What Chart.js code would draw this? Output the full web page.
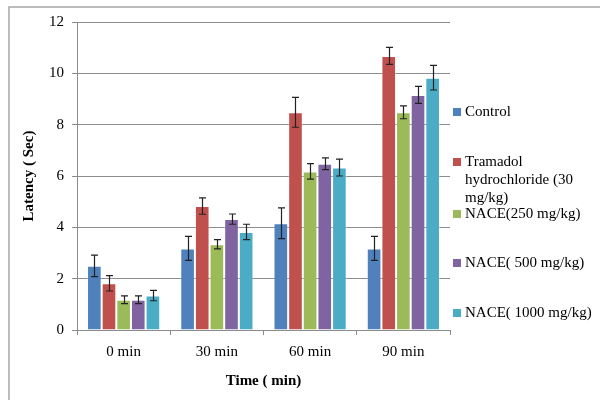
<!DOCTYPE html>
<html>
<head>
<meta charset="utf-8">
<script src="https://cdn.jsdelivr.net/npm/chart.js@4"></script>
<style>
html,body{margin:0;padding:0;background:#fff;}
#wrap{position:relative;width:600px;height:400px;}
</style>
</head>
<body>
<div id="wrap"><canvas id="c" width="600" height="400"></canvas></div>
<script>
const categories = ["0 min", "30 min", "60 min", "90 min"];
const seriesNames = ["Control", "Tramadol hydrochloride (30 mg/kg)", "NACE(250 mg/kg)", "NACE( 500 mg/kg)", "NACE( 1000 mg/kg)"];
const legendLines = [["Control"], ["Tramadol", "hydrochloride (30", "mg/kg)"], ["NACE(250 mg/kg)"], ["NACE( 500 mg/kg)"], ["NACE( 1000 mg/kg)"]];
const control   = [2.50, 3.18, 4.16, 3.18];
const tramadol  = [1.82, 4.83, 8.48, 10.68];
const nace250   = [1.18, 3.34, 6.18, 8.48];
const nace500   = [1.18, 4.32, 6.48, 9.16];
const nace1000  = [1.34, 3.82, 6.33, 9.83];
const errControl  = [0.42, 0.47, 0.60, 0.47];
const errTramadol = [0.30, 0.32, 0.58, 0.33];
const errNace250  = [0.15, 0.18, 0.30, 0.25];
const errNace500  = [0.15, 0.20, 0.23, 0.33];
const errNace1000 = [0.20, 0.30, 0.33, 0.48];
const yTicks = [0, 2, 4, 6, 8, 10, 12];

const colors = ["#4F81BD", "#C0504D", "#9BBB59", "#8064A2", "#4BACC6"];
const values = [control, tramadol, nace250, nace500, nace1000];
const errors = [errControl, errTramadol, errNace250, errNace500, errNace1000];
const FONT = "'Liberation Serif', 'Times New Roman', serif";

const errorBars = {
  id: 'errorBars',
  afterDatasetsDraw(chart) {
    const ctx = chart.ctx;
    const y = chart.scales.y;
    ctx.save();
    ctx.strokeStyle = '#222';
    ctx.lineWidth = 1.2;
    chart.data.datasets.forEach((ds, di) => {
      const meta = chart.getDatasetMeta(di);
      meta.data.forEach((bar, i) => {
        const v = ds.data[i], e = errors[di][i];
        const x = Math.round(bar.x) + 0.5;
        const yt = y.getPixelForValue(v + e), yb = y.getPixelForValue(v - e);
        ctx.beginPath();
        ctx.moveTo(x, yt); ctx.lineTo(x, yb);
        ctx.moveTo(x - 3.5, yt); ctx.lineTo(x + 3.5, yt);
        ctx.moveTo(x - 3.5, yb); ctx.lineTo(x + 3.5, yb);
        ctx.stroke();
      });
    });
    ctx.restore();
  }
};

const frameAndLegend = {
  id: 'frameAndLegend',
  beforeDraw(chart) {
    const ctx = chart.ctx;
    ctx.save();
    ctx.strokeStyle = '#a6a6a6';
    ctx.lineWidth = 1.5;
    ctx.beginPath();
    ctx.moveTo(9, 400); ctx.lineTo(9, 7); ctx.lineTo(600, 7);
    ctx.stroke();
    ctx.restore();
  },
  afterDraw(chart) {
    const ctx = chart.ctx;
    ctx.save();
    ctx.font = "15px " + FONT;
    ctx.fillStyle = '#000';
    ctx.textBaseline = 'middle';
    const ys = [112, 162, 214, 263, 313];
    legendLines.forEach((lines, i) => {
      ctx.fillStyle = colors[i];
      ctx.fillRect(453, ys[i] - 4, 8, 8);
      ctx.fillStyle = '#000';
      lines.forEach((t, k) => ctx.fillText(t, 465, ys[i] + k * 18));
    });
    ctx.restore();
  }
};

new Chart(document.getElementById('c'), {
  type: 'bar',
  data: {
    labels: categories,
    datasets: seriesNames.map((n, i) => ({
      label: n,
      data: values[i],
      backgroundColor: colors[i],
      borderColor: 'rgba(255,255,255,0.35)',
      borderWidth: 1,
      categoryPercentage: 0.785,
      barPercentage: 1.0
    }))
  },
  options: {
    responsive: false,
    animation: false,
    devicePixelRatio: 1,
    layout: { padding: { left: 20, top: 22, right: 150, bottom: 0 } },
    plugins: { legend: { display: false }, tooltip: { enabled: false } },
    scales: {
      x: {
        grid: { offset: true, display: true, drawOnChartArea: false, drawTicks: true, tickLength: 5, color: '#8c8c8c' },
        border: { display: true, color: '#8c8c8c' },
        ticks: { color: '#000', font: { family: FONT, size: 15 }, padding: 8 },
        title: { display: true, text: 'Time ( min)', color: '#000', font: { family: FONT, size: 15, weight: 'bold' }, padding: { top: 4, bottom: 10 } },
        afterFit(s) { s.height = 70; }
      },
      y: {
        min: 0, max: 12,
        afterBuildTicks(s) { s.ticks = yTicks.map(v => ({ value: v })); },
        grid: { color: '#8c8c8c', tickLength: 5, drawTicks: true },
        border: { display: true, color: '#8c8c8c' },
        ticks: { color: '#000', font: { family: FONT, size: 15 }, padding: 8 },
        title: { display: true, text: 'Latency ( Sec)', color: '#000', font: { family: FONT, size: 15, weight: 'bold' }, padding: { top: 0, bottom: 8 } },
        afterFit(s) { s.width = 57; }
      }
    }
  },
  plugins: [errorBars, frameAndLegend]
});
</script>
</body>
</html>
